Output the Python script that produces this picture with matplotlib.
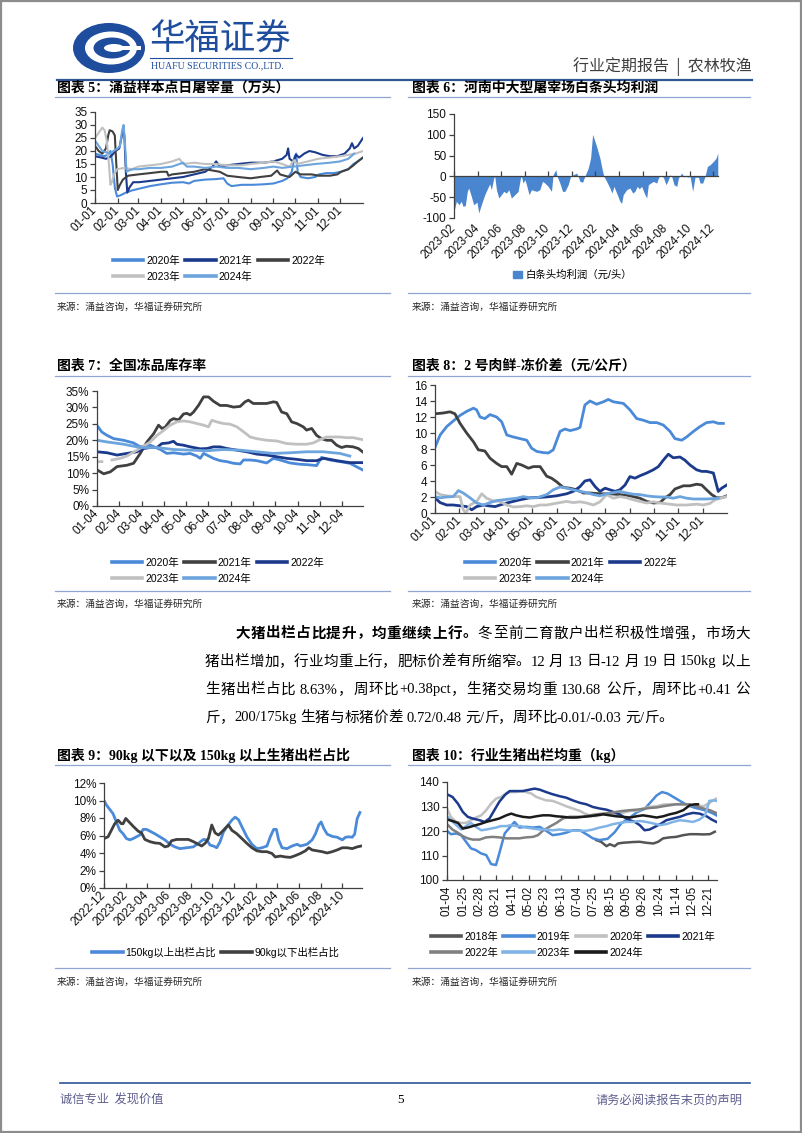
import re
import numpy as np
import matplotlib
matplotlib.use('Agg')
import matplotlib.pyplot as plt
from matplotlib.patches import Ellipse, Rectangle, Patch
from matplotlib.lines import Line2D
from matplotlib.ticker import PercentFormatter

# ======================= DATA =======================
# ---- Chart 5: daily slaughter (万头), x = day of year ----
c5_tick_days = [0, 31, 59, 90, 120, 151, 181, 212, 243, 273, 304, 334]
c5_tick_labels = ['01-01', '02-01', '03-01', '04-01', '05-01', '06-01',
                  '07-01', '08-01', '09-01', '10-01', '11-01', '12-01']
c5_day_2020 = [0,6,12,18,21,24,27,30,35,42,50,60,75,90,105,120,128,135,150,165,175,180,186,200,215,230,243,255,262,268,272,274,276,280,290,300,305,315,325,335,345,352,358,365]
c5_val_2020 = [19,18.5,18,18.5,20,15,6,2.5,3,4,4.8,5.5,6.5,7.2,7.8,8,7.5,8.5,9,9.2,9.5,7.5,6.5,7,7,7.2,7.5,8.5,9.5,12,18,19,12,10,9.5,10,11,11.5,11.5,12,13,15,16,17.5]
c5_day_2021 = [0,8,15,22,28,33,36,38,40,42,44,47,52,60,75,90,105,120,135,150,160,165,170,180,195,212,230,243,255,261,263,265,270,274,278,285,292,300,310,320,330,340,347,350,353,358,365]
c5_val_2021 = [18,17.5,17,18,20,21,25,28,26,12,4,6,8,8,8.5,9,9.5,10,11,12,14,16,14,14.5,15,15.5,15.5,16,17,18.5,21,17,16,18.5,17.5,19,20,19.5,18.5,18,18,19,21,23,21,22,25]
c5_day_2022 = [0,5,10,15,18,20,24,27,29,31,34,38,45,59,75,90,98,100,105,120,135,150,160,170,180,195,212,225,240,248,252,258,265,273,280,295,305,320,330,335,345,352,358,365]
c5_val_2022 = [22,20,19,21,26,28,27.5,26,15,5,7,9,10.5,11,11.5,12,12,10.5,11,11.5,12,13,12.5,12,10.5,10,9.5,10,10.5,12.5,11,10.5,10,12,11,11,10.5,10.5,11,12,13,14.5,16,17.5]
c5_day_2023 = [0,5,10,13,16,19,21,23,26,30,40,50,59,75,90,105,115,120,135,150,165,180,200,212,230,243,255,265,271,275,290,304,320,334,345,355,365]
c5_val_2023 = [25,27,29,28,24,15,7,8,11,13,13.5,13,14,14.5,15,16,17,15,15.5,15,15,14.5,14.5,15,15.5,16,15,14,16.5,15,16,17,17.5,18,18.5,19,20]
c5_day_2024 = [0,5,10,15,20,25,31,34,37,39,41,43,46,52,60,75,90,105,115,120,125,135,150,165,180,195,212,230,243,255,270,285,300,320,334,345,353]
c5_val_2024 = [24,22,20,19.5,19,20,21,22,28,30,22,12,12.5,13,13,13.5,13.5,14,15,15.5,14,14,13.5,14,13.5,13.5,13,13.5,14,13.5,14,14.5,15,15.5,16,17,19]

# ---- Chart 6: profit per head (元/头), x = months since 2023-02 ----
c6_tick_pos = [0, 2, 4, 6, 8, 10, 12, 14, 16, 18, 20, 22]
c6_tick_labels = ['2023-02', '2023-04', '2023-06', '2023-08', '2023-10', '2023-12',
                  '2024-02', '2024-04', '2024-06', '2024-08', '2024-10', '2024-12']
c6_month = [0.0,0.2,0.42,0.62,0.76,0.96,1.13,1.25,1.47,1.67,1.95,2.1,2.32,2.61,2.8,3.03,3.17,3.37,3.46,3.6,
            3.8,4.02,4.22,4.45,4.65,4.87,5.16,5.44,5.64,5.72,5.86,6.01,6.15,6.37,6.57,7.0,7.28,7.51,7.71,7.99,
            8.27,8.41,8.64,8.75,8.98,9.21,9.41,9.69,9.89,10.11,10.4,10.54,10.68,10.91,11.1,11.39,11.59,11.76,12.1,12.38,
            12.61,12.72,12.95,13.23,13.4,13.57,13.8,14.08,14.22,14.36,14.65,14.93,15.16,15.35,15.55,15.72,15.92,16.2,16.35,16.49,
            16.69,16.91,17.2,17.34,17.48,17.76,17.99,18.19,18.33,18.47,18.67,18.9,19.04,19.32,19.52,19.69,19.8,20.03,20.25,20.45,
            20.74,20.88,21.1,21.3,21.5,21.73,22.01,22.24,22.38]
c6_profit = [-84,-60,-68,-60,-72,-70,-36,-28,-48,-68,-62,-88,-68,-44,-32,-18,-32,-4,0,-32,
             -52,-44,-36,-40,-32,-52,-44,-36,-4,0,-16,-8,-20,-44,-32,-36,-32,-12,-16,-24,
             -36,4,16,0,-16,-36,-36,-20,0,4,8,0,-12,-14,0,20,44,101,72,44,
             12,0,-12,-28,-40,-24,-40,-60,-65,-44,-32,-28,-40,-36,-24,-30,-24,-44,-52,-20,
             -16,-12,-16,-4,2,-2,-20,-8,4,0,-20,-24,-4,8,-2,3,-2,0,-36,-2,
             -2,-16,-16,0,24,28,36,44,56]

# ---- Chart 7: frozen inventory rate (%), x = months since 01-04 ----
c7_tick_pos = list(range(12))
c7_tick_labels = ['01-04', '02-04', '03-04', '04-04', '05-04', '06-04',
                  '07-04', '08-04', '09-04', '10-04', '11-04', '12-04']
c7_m_2020 = [0,0.22,0.45,0.75,1.19,1.64,1.94,2.39,2.84,3.13,3.43,3.88,4.18,4.48,4.63,4.78,4.93,5.22,5.52,5.82,6.12,6.42,6.57,6.87,7.16,7.61,7.91,8.21,8.66,9.10,9.40,9.70,9.85,10.07,10.45,10.90,11.34,11.91]
c7_v_2020 = [24.5,22.5,21.5,20.5,20,19.2,18,18.5,17.2,16,16.2,15.8,16,15.2,14.5,16,15.5,14.5,13.8,13.5,13,12.8,14,14,13.8,13.1,14.5,14,13.1,12.7,12.6,12.4,12.3,14.8,14,13.5,13,11]
c7_m_2021 = [0,0.3,0.6,0.9,1.34,1.64,1.94,2.24,2.54,2.76,2.91,3.06,3.28,3.43,3.66,3.88,4.03,4.18,4.33,4.55,4.78,5.0,5.22,5.52,5.82,6.12,6.42,6.64,6.79,7.01,7.31,7.61,7.91,8.06,8.28,8.51,8.73,8.96,9.25,9.40,9.63,9.85,10.07,10.30,10.52,10.75,10.97,11.19,11.49,11.72,11.91]
c7_v_2021 = [11,9.8,10.4,12,12.4,13,16,19.5,22,24.6,23.6,24,26,26.6,26.2,28,28.2,27.7,28.6,30.6,33.2,33.2,31.9,30.6,30.6,30.1,30.3,31.7,32.2,31.2,31.2,31.2,31.7,31.5,28.6,28.1,25.6,25.1,24.1,23.1,23.6,21.5,20.5,20,20,18.5,17.8,18.2,18,17.5,16.5]
c7_m_2022 = [0,0.45,0.9,1.34,1.79,2.09,2.39,2.69,2.91,3.21,3.43,3.58,3.88,4.18,4.63,4.93,5.22,5.52,5.82,6.27,6.72,7.16,7.61,8.06,8.51,8.96,9.40,9.85,10.15,10.45,10.75,11.04,11.34,11.64,11.91]
c7_v_2022 = [16.5,16.2,15.5,16,16.5,17.5,17.8,17.8,19,19.2,19.7,18.8,18.5,18,17.4,17.5,18,18,17.5,17,16.5,15.8,15.5,15,14.5,14.2,13.8,13.8,14.5,14.2,13.8,13.5,13.2,13.2,13.2]
c7_m_2023 = [0,0.22,np.nan,0.67,1.04,1.34,1.79,2.09,2.39,2.69,2.99,3.28,3.58,3.88,4.18,4.48,4.78,5.0,5.15,5.37,5.67,5.97,6.27,6.57,6.87,7.16,7.61,8.06,8.51,8.96,9.40,9.70,10.0,10.30,10.60,10.90,11.19,11.49,11.91]
c7_v_2023 = [13.5,13.5,np.nan,14,14.5,15.2,17,18.2,19.5,21.5,23,24.6,25.6,25.9,25.6,25.1,24.6,24.1,26.1,25.6,25.1,24.9,24.1,22.6,21,20.5,20,19.8,19,18.8,18.8,19.2,20.2,21,21,21,20.8,20.8,20.2]
c7_m_2024 = [0,0.45,1.19,1.94,2.69,3.43,4.18,4.93,5.67,6.42,7.16,7.91,8.66,9.40,10.15,10.90,11.34]
c7_v_2024 = [20,19.5,18.8,17.8,17.8,17.2,17,16.8,17.2,17,16.5,16,16.2,16.5,16.5,16,15.2]

# ---- Chart 8: fresh-frozen spread (元/公斤), x = months since 01-01 ----
c8_tick_pos = list(range(12))
c8_tick_labels = ['01-01', '02-01', '03-01', '04-01', '05-01', '06-01',
                  '07-01', '08-01', '09-01', '10-01', '11-01', '12-01']
c8_m_2020 = [0,0.21,0.48,0.75,1.03,1.30,1.58,1.71,1.85,2.05,2.26,2.53,2.74,2.95,3.22,3.49,3.77,3.97,4.18,4.45,4.66,4.86,5.14,5.34,5.55,5.82,5.96,6.16,6.37,6.64,6.92,7.12,7.33,7.53,7.74,8.01,8.29,8.56,8.84,9.11,9.38,9.66,9.86,10.14,10.34,10.62,10.89,11.16,11.44,11.64,11.85]
c8_v_2020 = [8.2,9.75,10.8,11.5,12.2,12.7,13.1,12.9,12,11.8,12.3,12,11.4,9.75,9.5,9.3,9.1,8.1,7.7,7.55,7.5,7.9,10.2,10.5,10.3,10.5,10.7,13.5,14,13.6,13.9,14.2,13.9,13.8,13.7,12.9,11.8,11.6,11.3,11.3,11,10.2,9.3,9.1,9.5,10.2,10.8,11.3,11.4,11.2,11.2]
c8_m_2021 = [0,0.34,0.62,0.82,1.03,1.30,1.58,1.78,2.05,2.26,2.53,2.74,2.95,3.15,3.36,3.56,3.84,4.04,4.32,4.59,4.79,5.0,5.27,5.55,5.82,6.10,6.37,6.78,7.19,7.60,8.01,8.42,8.70,8.97,9.25,9.45,9.66,9.86,10.21,10.48,10.75,10.96,11.16,11.37,11.58,11.78,11.99]
c8_v_2021 = [12.4,12.5,12.65,12.4,11.2,10,8.9,7.9,7.75,6.85,6.2,5.8,5.8,4.85,6.2,6,5.6,5.8,5.8,4.6,4.35,3.9,3.2,3.1,2.9,2.5,2.5,2.4,2.4,2.3,2.15,1.85,1.45,1.25,1.3,1.9,2.3,3,3.4,3.4,3.6,3.5,2.9,2.3,1.9,1.9,2.15]
c8_m_2022 = [0,0.21,0.48,0.75,1.03,1.30,1.51,1.71,1.99,2.19,2.47,2.67,2.95,3.22,3.49,3.90,4.32,4.73,5.0,5.41,5.68,5.96,6.16,6.37,6.58,6.78,6.99,7.19,7.40,7.60,7.81,8.01,8.22,8.42,8.70,8.97,9.18,9.38,9.59,9.79,10.07,10.27,10.48,10.75,10.96,11.16,11.44,11.64,11.78,11.99]
c8_v_2022 = [1.9,1.3,1.0,1.0,0.9,0.8,0.4,0.8,1.0,0.9,0.8,1.0,1.25,1.45,1.65,1.9,1.95,2.05,2.15,2.4,2.7,3.3,4.0,4.15,3.3,2.7,3.1,2.9,2.7,2.9,3.5,4.55,4.35,4.65,5.0,5.4,5.8,6.6,7.35,6.9,7.0,6.6,6.0,5.4,5.2,5.2,5.0,2.7,3.1,3.5]
c8_m_2023 = [0,0.21,0.48,0.75,1.03,1.16,1.27,1.44,1.71,1.92,2.12,2.40,2.67,2.95,3.22,3.49,3.77,4.04,4.32,4.59,4.86,5.14,5.41,5.68,5.96,6.23,6.51,6.78,7.05,7.33,7.60,7.88,8.15,8.42,8.70,8.97,9.25,9.52,9.93,10.34,10.75,11.03,11.30,11.51,11.71,11.99]
c8_v_2023 = [2.7,2.3,2.15,2.05,2.05,0.4,0,1.0,1.45,2.4,1.85,1.5,1.45,1.0,0.75,0.8,0.9,0.8,1.0,1.0,1.15,1.3,1.45,1.3,1.4,1.25,1.0,1.4,2.3,1.85,2.05,1.9,1.65,1.45,1.25,1.4,1.25,1.15,1.0,1.0,1.1,1.0,1.2,1.65,1.85,2.05]
c8_m_2024 = [0,0.21,0.48,0.75,0.96,1.16,1.44,1.71,1.99,2.26,2.53,2.81,3.08,3.36,3.63,3.90,4.18,4.59,4.86,5.14,5.41,5.68,5.96,6.23,6.51,6.78,7.05,7.33,7.60,7.88,8.15,8.42,8.70,8.97,9.25,9.52,9.79,10.07,10.34,10.62,10.89,11.16,11.44,11.64]
c8_v_2024 = [2.05,1.9,2.0,2.05,2.8,2.5,1.9,1.25,1.0,1.3,1.55,1.65,1.75,1.85,2.05,1.9,1.9,2.3,2.9,3.25,3.1,2.9,2.7,2.55,2.3,2.15,2.4,2.55,2.7,2.5,2.35,2.3,2.15,2.05,2.0,2.0,1.85,2.05,1.85,1.75,1.75,1.75,1.8,1.85]

# ---- Chart 9: share of <90kg and >150kg (%), x = months since 2022-12 ----
c9_tick_pos = [0, 2, 4, 6, 8, 10, 12, 14, 16, 18, 20, 22]
c9_tick_labels = ['2022-12', '2023-02', '2023-04', '2023-06', '2023-08', '2023-10',
                  '2023-12', '2024-02', '2024-04', '2024-06', '2024-08', '2024-10']
c9_m_150 = [0,0.22,0.52,0.83,1.14,1.45,1.76,2.07,2.38,2.69,2.99,3.30,3.61,3.92,4.23,4.69,5.15,5.62,6.08,6.54,7.01,7.62,8.24,8.70,9.17,9.48,9.78,10.09,10.40,10.71,11.02,11.33,11.79,12.10,12.41,12.72,13.18,13.64,14.10,14.57,15.03,15.34,15.65,15.90,16.11,16.42,16.88,17.35,17.81,18.12,18.43,18.73,19.20,19.51,19.81,20.03,20.28,20.59,21.05,21.51,21.98,22.28,22.59,22.90,23.12,23.36,23.61]
c9_v_150 = [10.0,9.5,9,8.5,7.55,6.6,6.2,5.65,5.5,5.65,5.85,6.05,6.7,6.7,6.5,6.2,5.85,5.5,5,4.7,4.5,4.6,4.7,5.1,5.55,5.5,4.9,4.8,4.6,5.3,6.4,7,7.75,8.1,7.8,7,5.85,5,4.5,4.6,4.8,5.85,6.7,6.7,5.5,4.6,4.5,4.8,5,4.8,4.9,5,5.5,6.2,7.2,7.55,6.8,6.15,5.9,5.8,5.5,5.8,5.85,5.8,6.15,7.95,8.63]
c9_m_90 = [0,0.37,0.68,0.99,1.30,1.60,1.76,2.01,2.31,2.69,3.15,3.46,3.77,4.23,4.69,5.15,5.62,5.93,6.23,6.70,7.31,7.78,8.24,8.70,9.01,9.32,9.63,9.94,10.25,10.56,10.86,11.17,11.48,11.79,12.25,12.72,13.18,13.64,14.10,14.57,15.03,15.49,15.80,16.27,16.73,17.19,17.65,18.12,18.58,18.89,19.20,19.66,20.12,20.59,21.05,21.51,21.98,22.44,22.90,23.36,23.73]
c9_v_90 = [5.65,5.85,6.6,7.35,7.75,7.35,7.35,7.95,7.55,7.05,6.5,6.3,5.55,5.3,5.15,5.1,4.7,4.8,5.4,5.55,5.55,5.55,5.3,5,4.8,5.1,5.65,7.2,6.3,6.05,6.4,6.8,7.2,6.6,6.2,5.65,5.1,4.6,4.25,4.15,4.15,3.95,3.55,3.65,3.55,3.5,3.7,3.95,4.25,4.6,4.35,4.25,4.15,4.0,4.15,4.35,4.6,4.6,4.5,4.7,4.8]

# ---- Chart 10: average slaughter weight (kg), x = weekly category index ----
c10_tick_pos = list(range(0, 49, 3))
c10_tick_labels = ['01-04', '01-25', '02-28', '03-21', '04-11', '05-02', '05-23', '06-13', '07-04',
                   '07-25', '08-15', '09-05', '09-26', '10-24', '11-14', '12-05', '12-21']
c10_c_2018 = [27.4,28.3,29.3,29.9,30.8,31.4,32.3,34.2,35.4,36.6,37.9,38.8,39.7,40.9,42.1,43.4,44.6,45.8,47.1,48.3,49.2]
c10_v_2018 = [116.3,115.6,113.8,114.6,113.8,114.9,115.2,115.5,115.6,115.2,114.9,115.6,117.0,117.4,117.6,118.3,118.7,118.7,118.6,118.7,119.7]
c10_c_2019 = [0,0.7,1.7,2.6,3.5,4.4,5.3,6.3,7.2,8.1,9.0,9.6,10.6,11.5,12.4,13.3,14.5,15.8,17.0,18.2,19.4,20.7,21.9,23.1,24.4,25.6,26.8,
              28.0,29.5,30.8,32.0,33.6,35.0,36.3,37.5,38.5,39.5,40.5,41.8,43.0,44.2,45.5,46.8,48.0,49.0,49.5]
c10_v_2019 = [120.1,118.7,119,118.3,115.6,112.9,112.2,110.8,110.2,106.5,106.1,110.8,119,121.4,123.7,121.4,121.7,121.4,121.7,120.1,118.3,118.7,119.3,120.3,120.3,118.7,117,
              116.3,116.8,119.5,123.1,125.5,127.8,129,132,134.5,135.9,135.3,133.6,132,130.5,129.5,128.8,128,127,126.4]
c10_c_2020 = [0,0.7,1.7,2.6,3.5,4.4,5.3,6.3,7.2,8.1,9.0,9.9,10.9,11.8,12.7,13.6,14.5,15.5,16.4,17.3,18.2,19.4,20.7,21.9,23.1,24.4,25.3,26.2,27.4,28.7,29.9,31.1,32.3,33.6,34.8,36.0,37.2,38.5,39.7,40.9,42.1,43.4,44.6,45.8,47.1,48.0,48.6,49.4]
c10_v_2020 = [129.2,125.8,123.7,123.3,123.3,124.4,125.5,126.4,128.5,131.2,133.2,133.9,135.5,135.9,135.9,136.3,135.9,135.3,133.9,133.2,132.5,132.3,131.2,130.1,129.2,128.2,127.1,126.4,126,126.8,126.8,126.8,127.4,128.2,128.2,129.2,129.8,130.1,130.8,130.9,130.9,130.9,130.5,130.5,130.1,131.2,132,133.2]
c10_c_2021 = [0,1.0,2.0,2.9,3.8,4.7,6.0,6.9,7.8,8.7,9.6,10.6,11.5,12.7,13.9,15.2,16.1,17.0,18.2,19.4,20.7,21.9,23.1,24.4,25.6,26.8,28.0,29.3,30.5,31.7,32.6,33.6,34.5,35.4,36.3,37.2,38.2,39.4,40.3,41.5,42.8,44.0,45.2,46.4,47.7,48.6,49.5]
c10_v_2021 = [135,133.9,131.2,127.8,125.8,125.1,124.4,123.7,125.1,128.5,131.9,134.6,136.3,136.3,136.3,136.9,137.3,136.9,135.9,135,134.2,133.6,132.5,131.5,130.9,129.8,129.2,128.7,127.8,126.8,125.5,124.4,123.7,122.4,120.3,120.6,121.7,123.1,124.4,125.1,125.8,126.8,127.4,127.1,126,124.7,123.7]
c10_c_2022 = [0,1.0,2.0,2.9,3.8,4.7,6.0,7.2,8.4,9.6,10.9,12.1,13.3,14.5,15.8,16.7,17.6,18.8,20.1,21.3,22.5,23.7,25.0,26.2,27.4,28.7,29.9,31.1,32.3,33.6,34.8,36.0,37.2,38.5,39.7,40.9,42.1,43.4,44.6,45.8,47.1,48.3,49.4]
c10_v_2022 = [122.8,120.6,119.3,117.9,117,116.5,116.5,117.4,117.6,117.4,117,117,117,117.4,117.6,118.3,120.1,121.7,123.3,125.1,125.8,125.8,125.8,126.4,126.8,127.1,127.4,127.8,128.2,128.5,128.7,129,129.4,129.6,130.1,130.5,130.9,130.9,130.9,130.1,129.2,128.5,127.4]
c10_c_2023 = [0,0.7,1.7,2.6,3.5,4.4,5.3,6.3,7.2,8.1,9.0,9.9,10.9,11.8,12.7,13.6,14.5,15.8,17.0,18.2,19.4,20.7,21.9,23.1,24.4,25.6,26.8,28.0,29.3,30.5,31.7,32.9,34.2,35.4,36.6,37.9,39.1,40.3,41.5,42.8,44.0,45.2,46.4,47.4,48.2,48.9,49.5]
c10_v_2023 = [126,124.4,122.4,120.6,122,123.3,121.7,120.3,120.6,121,121.4,122,122,122.4,122,122,121.4,121,120.6,120.6,120.3,120.6,120.3,120.1,120.1,120.1,120.6,121.4,122,122.8,123.3,123.7,123.7,124.1,123.7,123.1,122.4,122.8,123.7,124.4,124.1,123.7,124.7,126.4,132.3,132.5,132.3]
c10_c_2024 = [0,1.0,2.0,2.9,3.8,4.7,6.0,7.2,8.4,9.6,10.9,11.8,12.7,13.9,15.2,16.4,17.6,18.8,20.1,21.3,22.5,23.7,25.0,26.2,27.4,28.7,29.9,31.1,32.3,33.6,34.8,36.0,37.2,38.5,39.7,40.9,42.1,43.4,44.6,45.5,46.1]
c10_v_2024 = [124.7,124.1,123.3,121,121.4,122,122.8,123.7,124.4,125.1,126.4,127.1,126.4,125.8,125.5,126,126.4,126.4,126,125.8,125.5,125.5,125.8,126,126.4,126.8,126.4,126,125.8,125.5,126,126.4,126,125.5,126,126.8,127.4,128.5,130.5,130.9,130.9]

# ---- Text ----
header_right = '行业定期报告  |  农林牧渔'
titles = ['图表 5：涌益样本点日屠宰量（万头）', '图表 6：河南中大型屠宰场白条头均利润',
          '图表 7：全国冻品库存率', '图表 8：2 号肉鲜-冻价差（元/公斤）',
          '图表 9：90kg 以下以及 150kg 以上生猪出栏占比', '图表 10：行业生猪出栏均重（kg）']
source_text = '来源：涌益咨询，华福证券研究所'
para_bold = '大猪出栏占比提升，均重继续上行。'
para_lines = ['冬至前二育散户出栏积极性增强，市场大',
              '猪出栏增加，行业均重上行，肥标价差有所缩窄。12 月 13 日-12 月 19 日 150kg 以上',
              '生猪出栏占比 8.63%，周环比+0.38pct，生猪交易均重 130.68 公斤，周环比+0.41 公',
              '斤，200/175kg 生猪与标猪价差 0.72/0.48 元/斤，周环比-0.01/-0.03 元/斤。']

# ======================= STYLE =======================
W, H = 802, 1133
CJK = 'Noto Sans CJK SC'
SANS = ['Liberation Sans', CJK]
SERIF = ['Liberation Serif', CJK]
plt.rcParams['font.family'] = SANS
plt.rcParams['axes.unicode_minus'] = False

NAVY = '#1E4D9D'
C_BLUE = '#4A8AD8'
C_BLUE2 = '#6CA4DD'
C_NAVY = '#1B3A8C'
C_DGRAY = '#404040'
C_LGRAY = '#C0C0C0'
C_MGRAY = '#808080'
C_BLACK = '#1A1A1A'
C_LBLUE = '#80B3E6'
AXC = '#404040'
TICK_FS = 8.5
LEG_FS = 7.5
BODY_FS = 10.5

fig = plt.figure(figsize=(W / 100, H / 100), dpi=100)
deco = fig.add_axes([0, 0, 1, 1])
deco.set_xlim(0, W)
deco.set_ylim(H, 0)
deco.axis('off')
r = fig.canvas.get_renderer()


def make_ax(x0, y_top, x1, y_bot):
    return fig.add_axes([x0 / W, 1 - y_bot / H, (x1 - x0) / W, (y_bot - y_top) / H])


def style(ax):
    ax.patch.set_visible(False)
    for s in ('top', 'right'):
        ax.spines[s].set_visible(False)
    for s in ('left', 'bottom'):
        ax.spines[s].set_color(AXC)
        ax.spines[s].set_linewidth(0.9)
    ax.tick_params(axis='y', direction='out', length=3.5, width=0.9, color=AXC,
                   labelsize=TICK_FS, pad=2, labelcolor='#111111')
    ax.tick_params(axis='x', direction='in', length=3.5, width=0.9, color=AXC,
                   labelsize=TICK_FS, pad=4, labelcolor='#111111')


def rot_xlabels(ax, pos, labels):
    ax.set_xticks(pos)
    ax.set_xticklabels(labels, rotation=45, ha='right', va='center', rotation_mode='anchor')


def row_major(items, ncol):
    order = []
    for j in range(ncol):
        order.extend(range(j, len(items), ncol))
    return [items[i] for i in order]


def legend_lines(ax, colors, labels, ncol, cx, cy, hl=2.9):
    handles = [Line2D([], [], color=c, lw=2.6) for c in colors]
    h = row_major(handles, ncol)
    l = row_major(labels, ncol)
    ax.legend(h, l, ncol=ncol, loc='center', bbox_to_anchor=(cx / W, 1 - cy / H),
              bbox_transform=fig.transFigure, frameon=False, fontsize=LEG_FS,
              handlelength=hl, handletextpad=0.3, columnspacing=0.5,
              labelspacing=0.55, borderpad=0, borderaxespad=0)


def text_width(s, **kw):
    t = deco.text(0, 0, s, **kw)
    w = t.get_window_extent(renderer=r).width
    t.remove()
    return w


def draw_line(segments, x0, x1, y, justify):
    """segments: list of (text, weight). Latin runs kept together, CJK laid out glyph by glyph."""
    tokens = []
    for txt, wt in segments:
        kw = dict(fontsize=BODY_FS, fontweight=wt, family=SERIF)
        bar = text_width('||', **kw)
        for tok in re.findall(r'[!-~]+| |[^ !-~]', txt):
            tokens.append((tok, kw, text_width('|' + tok + '|', **kw) - bar))
    total = sum(t[2] for t in tokens)
    gap = (x1 - x0 - total) / (len(tokens) - 1) if justify else 0.0
    x = x0
    for tok, kw, w in tokens:
        if tok != ' ':
            deco.text(x, y, tok, va='center', ha='left', color='#000000', **kw)
        x += w + gap


# ======================= PAGE DECORATION =======================
deco.add_patch(Rectangle((0.8, 0.8), W - 1.6, H - 1.6, fill=False, ec='#8C8C8C', lw=1.6))

# logo
lx, ly = 109, 48
deco.add_patch(Ellipse((lx, ly), 72, 50, color=NAVY, lw=0))
deco.add_patch(Ellipse((lx + 2, ly), 52, 33, color='white', lw=0))
deco.add_patch(Ellipse((lx + 3, ly), 37, 21, color=NAVY, lw=0))
deco.add_patch(Ellipse((lx + 5, ly), 20, 8, color='white', lw=0))
deco.add_patch(Rectangle((lx + 6, ly - 2), 26, 4, color='white', lw=0))

deco.text(149, 40, '华福证券', fontsize=25.5, color=NAVY, family=[CJK], va='center', ha='left')
deco.plot([150, 292], [58, 58], color=NAVY, lw=0.8)
deco.text(151, 65.5, 'HUAFU SECURITIES CO.,LTD.', fontsize=7, color=NAVY, family=SERIF,
          va='center', ha='left')
deco.text(752, 67, header_right, fontsize=11.5, color='#3F3F3F', family=[CJK], va='center', ha='right')
deco.plot([57, 752], [80, 80], color='#2F5597', lw=1.6)

# chart frames (titles, rules, sources)
rows = [(88, 97, 293, 307), (366, 376, 591, 604), (755, 765, 968, 982)]
cols = [(57, 55, 390), (412, 408, 750)]
ti = 0
for (ty, uy, by, sy) in rows:
    for (tx, lx0, lx1) in cols:
        deco.text(tx, ty, titles[ti], fontsize=10, fontweight='bold', family=SERIF,
                  va='center', ha='left', color='#000000')
        deco.plot([lx0, lx1], [uy, uy], color='#8EA6D0', lw=0.9)
        deco.plot([lx0, lx1], [by, by], color='#8EA6D0', lw=0.9)
        deco.text(tx, sy, source_text, fontsize=7, color='#262626', family=[CJK],
                  va='center', ha='left')
        ti += 1

# paragraph (justified like the report)
draw_line([(para_bold, 'bold'), (para_lines[0], 'normal')], 235, 750, 634, True)
draw_line([(para_lines[1], 'normal')], 205, 750, 662, True)
draw_line([(para_lines[2], 'normal')], 205, 750, 690, True)
draw_line([(para_lines[3], 'normal')], 205, 750, 718, False)

# footer
deco.plot([60, 750], [1083, 1083], color='#2F5597', lw=1.2)
deco.text(60, 1100, '诚信专业  发现价值', fontsize=8.8, color='#5F5F8F', family=[CJK], va='center', ha='left')
deco.text(401, 1100, '5', fontsize=9.5, color='#000000', family=SERIF, va='center', ha='center')
deco.text(742, 1100, '请务必阅读报告末页的声明', fontsize=8.8, color='#5F5F8F', family=[CJK], va='center', ha='right')

# ======================= CHART 5 =======================
ax5 = make_ax(95, 112, 363, 203)
style(ax5)
c5_series = [(c5_day_2020, c5_val_2020, C_BLUE), (c5_day_2021, c5_val_2021, C_NAVY),
             (c5_day_2022, c5_val_2022, C_DGRAY), (c5_day_2023, c5_val_2023, C_LGRAY),
             (c5_day_2024, c5_val_2024, C_BLUE2)]
for d, v, c in c5_series:
    ax5.plot(d, v, color=c, lw=1.5)
ax5.set_xlim(0, 365)
ax5.set_ylim(0, 35)
ax5.set_yticks(range(0, 36, 5))
rot_xlabels(ax5, c5_tick_days, c5_tick_labels)
legend_lines(ax5, [C_BLUE, C_NAVY, C_DGRAY, C_LGRAY, C_BLUE2],
             ['2020年', '2021年', '2022年', '2023年', '2024年'], 3, 219, 269)

# ======================= CHART 6 =======================
ax6 = make_ax(454, 114, 718, 218)
style(ax6)
ax6.fill_between(c6_month, c6_profit, 0, color='#4A86CF', lw=0)
ax6.set_xlim(0, 22.4)
ax6.set_ylim(-100, 150)
ax6.set_yticks(range(-100, 151, 50))
ax6.spines['bottom'].set_position(('data', 0))
ax6.set_xticks(c6_tick_pos)
ax6.tick_params(axis='x', labelbottom=False)
sec6 = ax6.secondary_xaxis('bottom')
sec6.set_xticks(c6_tick_pos)
sec6.set_xticklabels(c6_tick_labels, rotation=45, ha='right', va='center', rotation_mode='anchor')
sec6.tick_params(axis='x', length=0, labelsize=TICK_FS, pad=6, labelcolor='#111111')
sec6.spines['bottom'].set_visible(False)
ax6.legend([Patch(color='#4A86CF')], ['白条头均利润（元/头）'], loc='center',
           bbox_to_anchor=(573 / W, 1 - 275 / H), bbox_transform=fig.transFigure,
           frameon=False, fontsize=LEG_FS, handlelength=0.8, handleheight=0.8,
           handletextpad=0.4, borderpad=0)

# ======================= CHART 7 =======================
ax7 = make_ax(97, 391, 363, 506)
style(ax7)
c7_series = [(c7_m_2020, c7_v_2020, C_BLUE), (c7_m_2021, c7_v_2021, C_DGRAY),
             (c7_m_2022, c7_v_2022, C_NAVY), (c7_m_2023, c7_v_2023, C_LGRAY),
             (c7_m_2024, c7_v_2024, C_BLUE2)]
for m, v, c in c7_series:
    ax7.plot(m, v, color=c, lw=2.0)
ax7.set_xlim(0, 11.93)
ax7.set_ylim(0, 35)
ax7.set_yticks(range(0, 36, 5))
ax7.yaxis.set_major_formatter(PercentFormatter(xmax=100, decimals=0))
rot_xlabels(ax7, c7_tick_pos, c7_tick_labels)
legend_lines(ax7, [C_BLUE, C_DGRAY, C_NAVY, C_LGRAY, C_BLUE2],
             ['2020年', '2021年', '2022年', '2023年', '2024年'], 3, 218, 571)

# ======================= CHART 8 =======================
ax8 = make_ax(435, 385, 727, 513)
style(ax8)
c8_series = [(c8_m_2020, c8_v_2020, C_BLUE), (c8_m_2021, c8_v_2021, C_DGRAY),
             (c8_m_2022, c8_v_2022, C_NAVY), (c8_m_2023, c8_v_2023, C_LGRAY),
             (c8_m_2024, c8_v_2024, C_BLUE2)]
for m, v, c in c8_series:
    ax8.plot(m, v, color=c, lw=2.0)
ax8.set_xlim(0, 12.0)
ax8.set_ylim(0, 16)
ax8.set_yticks(range(0, 17, 2))
rot_xlabels(ax8, c8_tick_pos, c8_tick_labels)
legend_lines(ax8, [C_BLUE, C_DGRAY, C_NAVY, C_LGRAY, C_BLUE2],
             ['2020年', '2021年', '2022年', '2023年', '2024年'], 3, 571, 571)

# ======================= CHART 9 =======================
ax9 = make_ax(104, 783, 362, 888)
style(ax9)
ax9.plot(c9_m_150, c9_v_150, color=C_BLUE, lw=2.0)
ax9.plot(c9_m_90, c9_v_90, color=C_DGRAY, lw=2.0)
ax9.set_xlim(0, 23.8)
ax9.set_ylim(0, 12)
ax9.set_yticks(range(0, 13, 2))
ax9.yaxis.set_major_formatter(PercentFormatter(xmax=100, decimals=0))
rot_xlabels(ax9, c9_tick_pos, c9_tick_labels)
legend_lines(ax9, [C_BLUE, C_DGRAY], ['150kg以上出栏占比', '90kg以下出栏占比'], 2, 216, 952)

# ======================= CHART 10 =======================
ax10 = make_ax(447, 782, 717, 880)
style(ax10)
c10_series = [(c10_c_2018, c10_v_2018, '#555555'), (c10_c_2019, c10_v_2019, C_BLUE),
              (c10_c_2020, c10_v_2020, C_LGRAY), (c10_c_2021, c10_v_2021, C_NAVY),
              (c10_c_2022, c10_v_2022, C_MGRAY), (c10_c_2023, c10_v_2023, C_LBLUE),
              (c10_c_2024, c10_v_2024, C_BLACK)]
for cc, v, c in c10_series:
    ax10.plot(cc, v, color=c, lw=1.8)
ax10.set_xlim(0, 49.6)
ax10.set_ylim(100, 140)
ax10.set_yticks(range(100, 141, 10))
ax10.set_xticks(c10_tick_pos)
ax10.set_xticklabels(c10_tick_labels, rotation=90, ha='center', va='top')
legend_lines(ax10, ['#555555', C_BLUE, C_LGRAY, C_NAVY, C_MGRAY, C_LBLUE, C_BLACK],
             ['2018年', '2019年', '2020年', '2021年', '2022年', '2023年', '2024年'], 4, 573, 945)

fig.savefig('out.png', dpi=100)
